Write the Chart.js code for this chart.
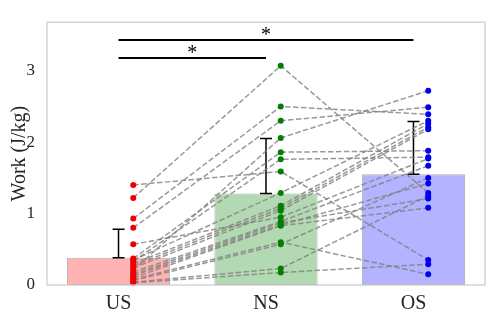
<!DOCTYPE html>
<html><head><meta charset="utf-8">
<script src="https://cdn.jsdelivr.net/npm/chart.js@4/dist/chart.umd.min.js"></script>
<style>html,body{margin:0;padding:0;background:#fff;}#wrap{width:489px;height:314px;}</style>
</head><body><div id="wrap"><canvas id="c" width="489" height="314"></canvas></div>
<script>
const categories = ['US', 'NS', 'OS'];
const meanValues = [0.38, 1.28, 1.55];
const sdValues = [0.40, 0.77, 0.74];
// per-subject values (same index = same subject)
const usValues = [1.22, 1.40, 0.93, 0.80, 0.57, 0.37, 0.33, 0.35, 0.30, 0.27, 0.24, 0.21, 0.18, 0.15, 0.13, 0.10, 0.08, 0.06, 0.04, 0.03];
const nsValues = [3.07, 1.59, 2.50, 2.30, 0.95, 1.86, 1.76, 1.29, 1.11, 1.075, 1.04, 2.06, 0.89, 0.87, 0.84, 0.83, 0.60, 0.57, 0.23, 0.175];
const osValues = [1.29, 0.35, 2.39, 2.49, 1.77, 1.88, 1.79, 2.30, 2.26, 2.21, 2.18, 2.72, 1.67, 1.21, 1.42, 1.08, 0.15, 1.50, 1.25, 0.29];
const yTicks = [0, 1, 2, 3];
const sigPairs = [[0, 1], [0, 2]];
const sigLevels = [3.18, 3.43];
const sigLabels = ['*', '*'];

const pointOffset = 0.1;
const barColors = ['#ffb3b3', '#b3d9b3', '#b3b3ff'];
const dotColors = ['#ee0000', '#008000', '#0000ee'];
const groups = [usValues, nsValues, osValues];
const serif = "'Liberation Serif', 'Times New Roman', serif";
const textColor = '#262626';

const datasets = [];
datasets.push({
  type: 'bar',
  data: meanValues.map((v, i) => ({x: i, y: v})),
  backgroundColor: barColors,
  borderColor: '#b0b0b0',
  borderWidth: 1,
  borderSkipped: false,
  barPercentage: 0.7,
  categoryPercentage: 1,
  order: 3
});
groups.forEach((vals, g) => {
  datasets.push({
    type: 'scatter',
    data: vals.map(v => ({x: g + pointOffset, y: v})),
    backgroundColor: dotColors[g],
    borderWidth: 0,
    pointRadius: 3,
    pointHoverRadius: 3,
    clip: false,
    order: 1
  });
});
usValues.forEach((_, s) => {
  datasets.push({
    type: 'line',
    data: groups.map((vals, g) => ({x: g + pointOffset, y: vals[s]})),
    borderColor: 'rgba(128,128,128,0.8)',
    borderWidth: 1.5,
    borderDash: [5.5, 2.4],
    pointRadius: 0,
    fill: false,
    tension: 0,
    clip: false,
    order: 2
  });
});

const annot = {
  id: 'annot',
  afterDatasetDraw(chart, args) {
    if (args.index !== 0) return;
    const {ctx, scales: {x, y}} = chart;
    ctx.save();
    ctx.strokeStyle = '#000';
    ctx.lineWidth = 1.5;
    meanValues.forEach((m, i) => {
      const px = x.getPixelForValue(i);
      const y0 = y.getPixelForValue(m);
      const y1 = y.getPixelForValue(m + sdValues[i]);
      ctx.beginPath();
      ctx.moveTo(px, y0); ctx.lineTo(px, y1);
      ctx.moveTo(px - 6, y0); ctx.lineTo(px + 6, y0);
      ctx.moveTo(px - 6, y1); ctx.lineTo(px + 6, y1);
      ctx.stroke();
    });
    ctx.restore();
  },
  afterDraw(chart) {
    const {ctx, chartArea: a, scales: {x, y}} = chart;
    ctx.save();
    ctx.strokeStyle = '#cccccc';
    ctx.lineWidth = 1.25;
    ctx.strokeRect(a.left, a.top, a.right - a.left, a.bottom - a.top);
    ctx.strokeStyle = '#000';
    ctx.fillStyle = '#000';
    ctx.lineWidth = 2;
    ctx.font = '20px ' + serif;
    ctx.textAlign = 'center';
    ctx.textBaseline = 'alphabetic';
    sigPairs.forEach((p, k) => {
      const x0 = x.getPixelForValue(p[0]);
      const x1 = x.getPixelForValue(p[1]);
      const py = y.getPixelForValue(sigLevels[k]);
      ctx.beginPath();
      ctx.moveTo(x0, py); ctx.lineTo(x1, py);
      ctx.stroke();
      ctx.fillText(sigLabels[k], (x0 + x1) / 2, py + 1);
    });
    ctx.restore();
  }
};

new Chart(document.getElementById('c'), {
  type: 'bar',
  data: {datasets},
  plugins: [annot],
  options: {
    responsive: false,
    animation: false,
    events: [],
    layout: {padding: {left: 0, right: 4, top: 5, bottom: 0}},
    plugins: {legend: {display: false}, tooltip: {enabled: false}},
    scales: {
      x: {
        type: 'linear', min: -0.485, max: 2.485, offset: false,
        afterBuildTicks: s => { s.ticks = categories.map((c, i) => ({value: i})); },
        afterFit: s => { s.height = 29; },
        grid: {display: false, drawTicks: false, offset: false},
        border: {display: false},
        ticks: {padding: 7, autoSkip: false, maxRotation: 0, color: textColor,
          font: {family: serif, size: 20},
          callback: v => categories[Math.round(v)]}
      },
      y: {
        type: 'linear', min: 0, max: 3.68,
        afterBuildTicks: s => { s.ticks = yTicks.map(v => ({value: v})); },
        afterFit: s => { s.width = 47; },
        grid: {display: false, drawTicks: false},
        border: {display: false},
        ticks: {padding: 12, color: textColor, font: {family: serif, size: 17},
          callback: v => String(v)},
        title: {display: true, text: 'Work (J/kg)', color: textColor,
          font: {family: serif, size: 20}, padding: {top: 8, bottom: 0}}
      }
    }
  }
});
</script></body></html>
